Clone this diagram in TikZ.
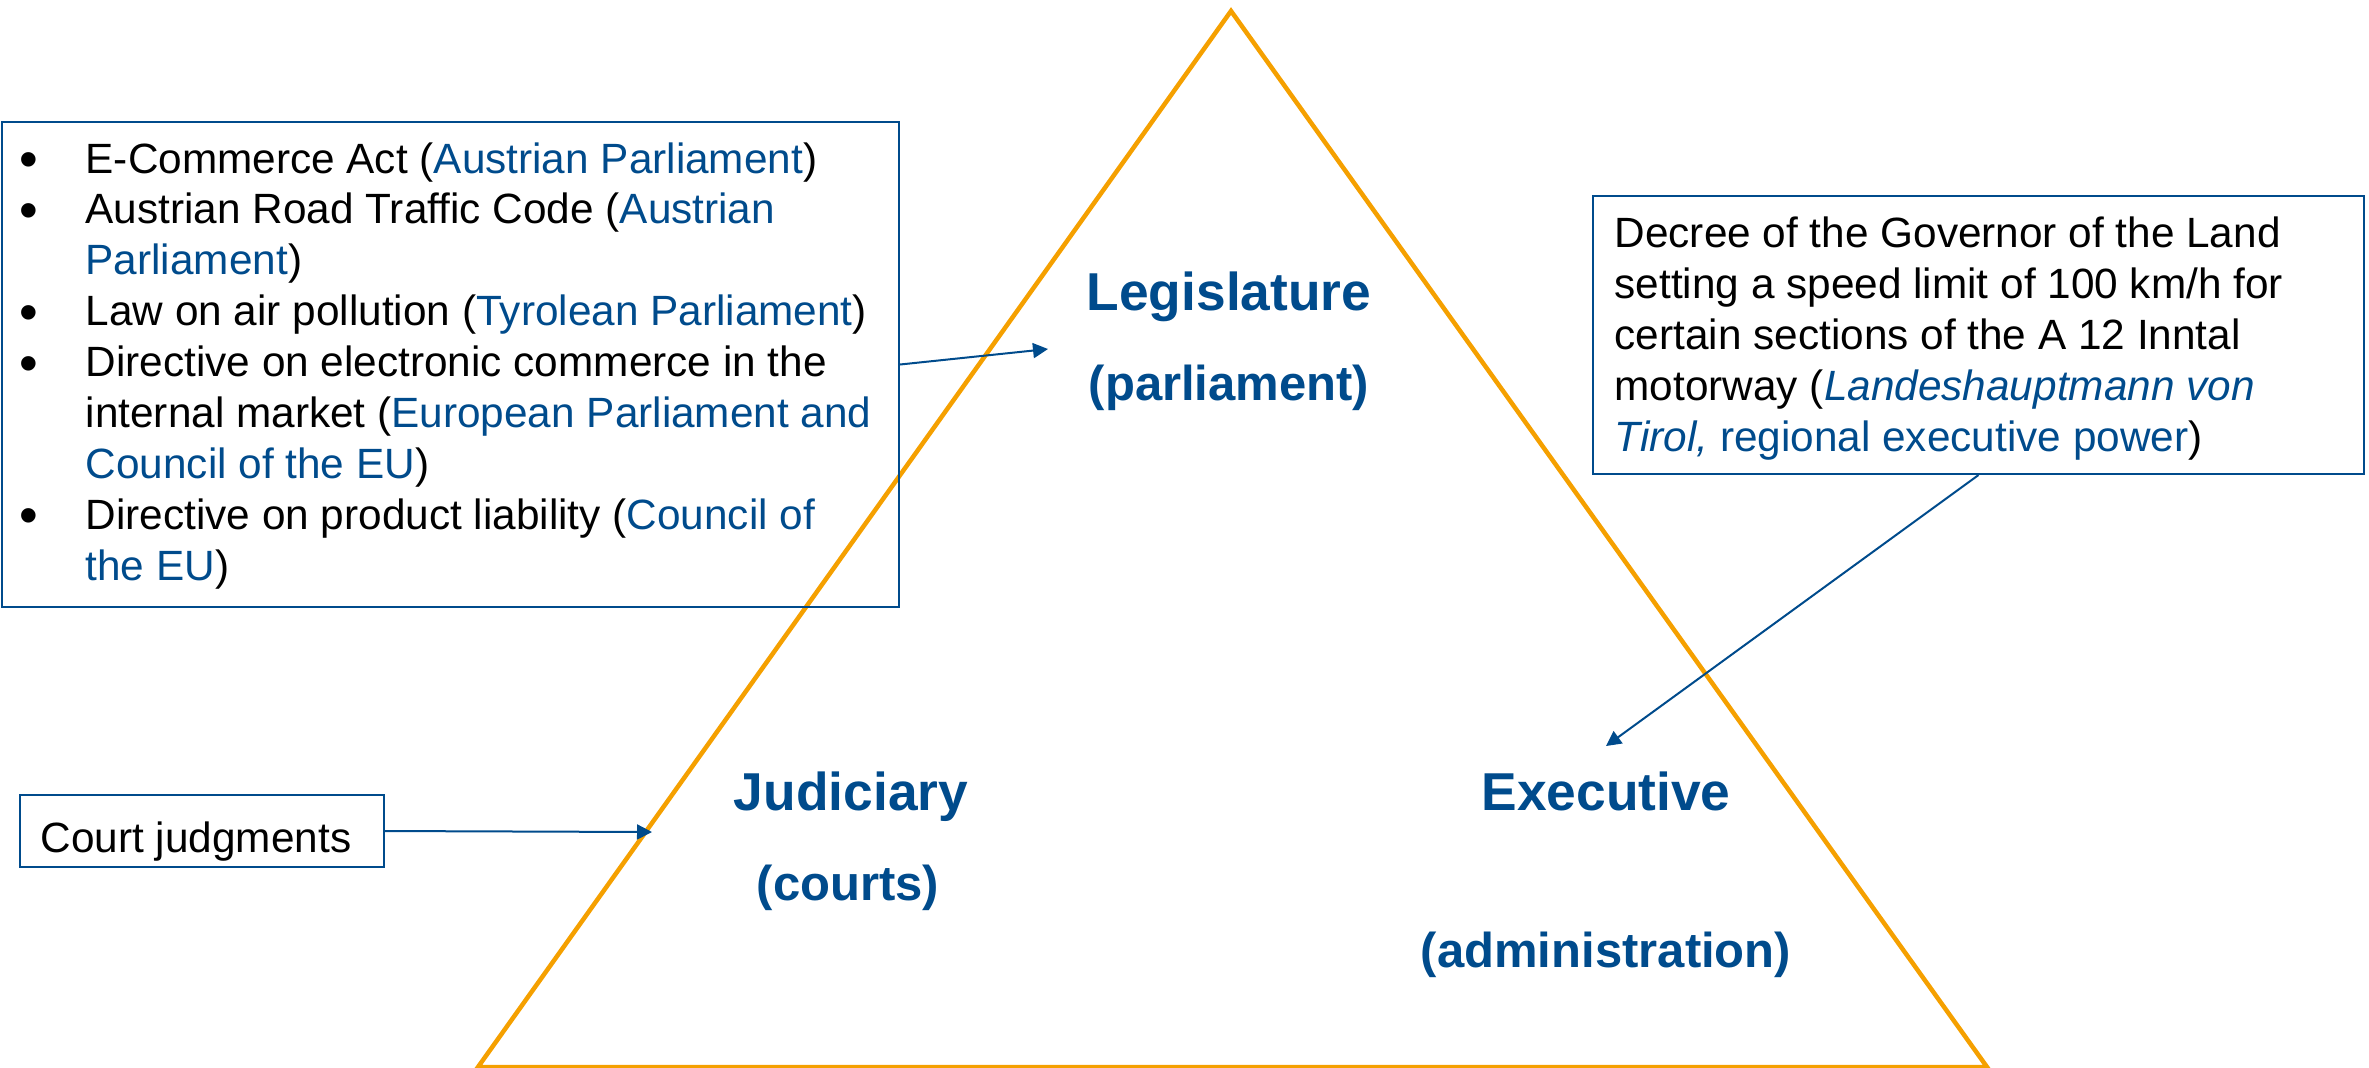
\documentclass[tikz,border=0pt]{standalone}
\usepackage{fontspec}
\setmainfont{Liberation Sans}
\usetikzlibrary{arrows.meta}
\definecolor{lawblue}{RGB}{0,75,140}
\definecolor{triorange}{RGB}{245,160,0}
% one drawing unit
\newdimen\pu \pu=0.3pt
\newcommand\bl[1]{\textcolor{lawblue}{#1}}
\begin{document}
\begin{tikzpicture}[x=0.3pt,y=-0.3pt,
  panel/.style={draw=lawblue, line width=0.6pt, rectangle, inner sep=0pt},
  txt/.style={anchor=base west, inner sep=0pt, font=\fontsize{12.7}{15.3}\selectfont},
  dot/.style={anchor=center, inner sep=0pt, font=\fontsize{16}{16}\selectfont},
  head/.style={anchor=base, inner sep=0pt, text=lawblue, font=\bfseries\fontsize{16}{18}\selectfont},
  subhead/.style={head, font=\bfseries\fontsize{14.7}{18}\selectfont},
  link/.style={draw=lawblue, line width=0.6pt, -{Triangle[length=4.5pt,width=4.5pt]}},
]
\useasboundingbox (0,0) rectangle (2369,1067);

% the three powers
\draw[triorange, line width=1.35pt, line join=miter] (1231,11) -- (1987,1067) -- (478,1067) -- cycle;

\node[head]    (leg)  at (1229,310) {Legislature};
\node[subhead] (parl) at (1229,400) {(parliament)};
\node[head]    (jud)  at (851,810)  {Judiciary};
\node[subhead] (crt)  at (848,900)  {(courts)};
\node[head]    (exe)  at (1606,810) {Executive};
\node[subhead] (adm)  at (1606,967) {(administration)};

% legislative acts
\node[panel, minimum width=897\pu, minimum height=485\pu] (acts) at (450.5,364.5) {};
\node[dot] (b1) at (29,165)   {•};
\node[txt] (a1) at (85,173)   {E-Commerce Act (\bl{Austrian Parliament})};
\node[dot] (b2) at (29,215.9) {•};
\node[txt] (a2) at (85,223.9) {Austrian Road Traffic Code (\bl{Austrian}};
\node[txt] (a3) at (85,274.8) {\bl{Parliament})};
\node[dot] (b4) at (29,317.7) {•};
\node[txt] (a4) at (85,325.7) {Law on air pollution (\bl{Tyrolean Parliament})};
\node[dot] (b5) at (29,368.6) {•};
\node[txt] (a5) at (85,376.6) {Directive on electronic commerce in the};
\node[txt] (a6) at (85,427.5) {internal market (\bl{European Parliament and}};
\node[txt] (a7) at (85,478.4) {\bl{Council of the EU})};
\node[dot] (b8) at (29,521.3) {•};
\node[txt] (a8) at (85,529.3) {Directive on product liability (\bl{Council of}};
\node[txt] (a9) at (85,580.2) {\bl{the EU})};

% executive decree
\node[panel, minimum width=771\pu, minimum height=278\pu] (deco) at (1978.5,335) {};
\node[txt] (d1) at (1614,247) {Decree of the Governor of the Land};
\node[txt] (d2) at (1614,298) {setting a speed limit of 100 km/h for};
\node[txt] (d3) at (1614,349) {certain sections of the A 12 Inntal};
\node[txt] (d4) at (1614,400) {motorway (\bl{\itshape Landeshauptmann von}};
\node[txt] (d5) at (1614,451) {\bl{\textit{Tirol,} regional executive power})};

% judgments
\node[panel, minimum width=364\pu, minimum height=72\pu] (court) at (202,831) {};
\node[txt] (ct) at (40,852) {Court judgments};

% connectors
\coordinate (legtip) at (1048,349);
\coordinate (exetip) at (1606,746);
\coordinate (judtip) at (652,832);
\draw[link] (acts.east) -- (legtip);
\draw[link] (deco.south) -- (exetip);
\draw[link] (court.east) -- (judtip);
\end{tikzpicture}
\end{document}
